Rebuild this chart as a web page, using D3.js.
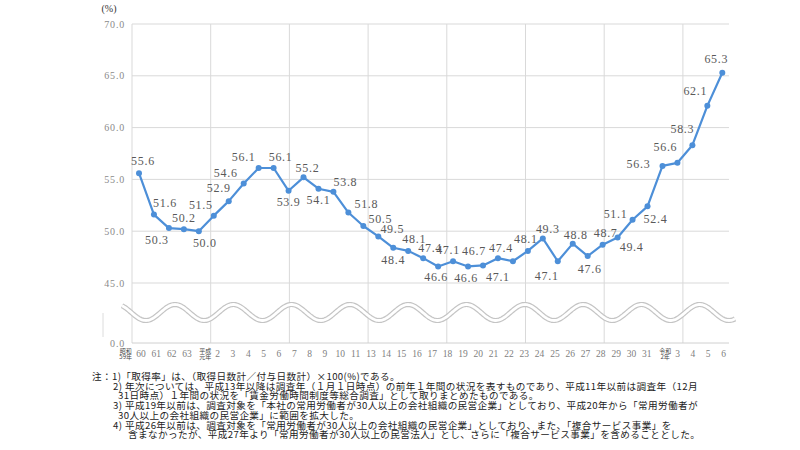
<!DOCTYPE html>
<html><head><meta charset="utf-8">
<script src="https://cdn.jsdelivr.net/npm/d3@7/dist/d3.min.js"></script>
<style>body{margin:0;background:#fff}svg{display:block}</style>
</head><body><svg id="c" width="800" height="450"></svg>
<script>
const categories = ["昭和59年","60","61","62","63","平成元年","2","3","4","5","6","7","8","9","10","11","13","14","15","16","17","18","19","20","21","22","23","24","25","26","27","28","29","30","31","令和2年","3","4","5","6"];
const values = [55.6,51.6,50.3,50.2,50.0,51.5,52.9,54.6,56.1,56.1,53.9,55.2,54.1,53.8,51.8,50.5,49.5,48.4,48.1,47.4,46.6,47.1,46.6,46.7,47.4,47.1,48.1,49.3,47.1,48.8,47.6,48.7,49.4,51.1,52.4,56.3,56.6,58.3,62.1,65.3];
const yTicks = [0,45,50,55,60,65,70];
const unitLabel = "(%)";
const notes = [
 "注：1)「取得率」は、（取得日数計／付与日数計）×100(%)である。",
 "2) 年次については、平成13年以降は調査年（１月１日時点）の前年１年間の状況を表すものであり、平成11年以前は調査年（12月",
 "31日時点）１年間の状況を「賃金労働時間制度等総合調査」として取りまとめたものである。",
 "3) 平成19年以前は、調査対象を「本社の常用労働者が30人以上の会社組織の民営企業」としており、平成20年から「常用労働者が",
 "30人以上の会社組織の民営企業」に範囲を拡大した。",
 "4) 平成26年以前は、調査対象を「常用労働者が30人以上の会社組織の民営企業」としており、また、「複合サービス事業」を",
 "含まなかったが、平成27年より「常用労働者が30人以上の民営法人」とし、さらに「複合サービス事業」を含めることとした。"
];

// layout (label placement offsets relative to each point)
const labelOffsets = [[4,-12],[11,-12],[-12,12],[0,-11],[6,12],[-13,-11],[-10,-13],[-18,-11],[-15,-11],[7,-11],
 [0,11],[4,-9],[0,11],[12,-10],[18,-9],[17,-7],[14,-7],[0,12],[6,-12],[7,-10],
 [-2,11],[-5,-11],[-2,12],[-9,-14],[3,-10],[-15,16],[-2,-12],[5,-9],[-11,15],[3,-9],
 [2,13],[3,-12],[14,10],[-17,-6],[8,13],[-24,-2],[-12,-16],[-10,-16],[-12,-15],[-6,-14]];
const noteX = [92,113,118,113,118,113,128];
const serif = "'Liberation Serif','Times New Roman',serif";
const cjk = "'Noto Sans CJK JP',sans-serif";

const svg = d3.select("#c");
const plotL = 132, plotR = 729, plotT = 24, axisY = 343;
const idx = d3.range(categories.length);
const x = d3.scalePoint().domain(idx).range([139, 722.3]);
const xLab = d3.scalePoint().domain(idx).range([125.7, 723.5]);
const y = d3.scaleLinear().domain([0,45,70]).range([axisY, 283, plotT]);

const lineCol = "#4d8fd8", gridCol = "#d9d9d9";

// vertical gridlines
const gStep = 78.7;
const gx = d3.range(plotL, plotR - 5, gStep);
svg.append("g").selectAll("line").data(gx).join("line")
  .attr("x1", d => d).attr("x2", d => d).attr("y1", plotT).attr("y2", axisY)
  .attr("stroke", gridCol).attr("stroke-width", 1);
// horizontal gridlines
svg.append("g").selectAll("line").data(yTicks).join("line")
  .attr("x1", plotL).attr("x2", plotR).attr("y1", d => y(d)).attr("y2", d => y(d))
  .attr("stroke", d => d === 0 ? "#d0d0d0" : gridCol).attr("stroke-width", 1);
// small bracket mark left of the break
svg.append("line").attr("x1", 103).attr("x2", 103).attr("y1", 313).attr("y2", 337)
  .attr("stroke", "#dcdcdc").attr("stroke-width", 1);

// y tick labels
svg.append("g").selectAll("text").data(yTicks).join("text")
  .attr("x", 125).attr("y", d => y(d) + 3.5).attr("text-anchor", "end")
  .style("font-family", serif).attr("font-size", 10).attr("letter-spacing", 0.8)
  .attr("fill", "#8a8a8a").text(d => d.toFixed(1));
svg.append("text").attr("x", 109).attr("y", 12).attr("text-anchor", "middle")
  .style("font-family", serif).attr("font-size", 10).attr("fill", "#333").text(unitLabel);

// wavy break
const waveY = xx => 312.5 - 8 * Math.cos(2 * Math.PI * (xx - 175) / 58.3);
const wavePts = d3.range(122, 736, 1);
const wl = d3.line().x(d => d).y(d => waveY(d));
svg.append("path").attr("d", wl(wavePts)).attr("fill", "none").attr("stroke", "#c4c4c4").attr("stroke-width", 5.2);
svg.append("path").attr("d", wl(wavePts)).attr("fill", "none").attr("stroke", "#fff").attr("stroke-width", 2.8);

// x labels
const xg = svg.append("g");
idx.forEach(i => {
  const c = categories[i];
  if (c.length > 2 && /年$/.test(c)) {
    const t = xg.append("text").attr("text-anchor", "middle")
      .style("font-family", cjk).attr("font-size", 6).attr("fill", "#444");
    t.append("tspan").attr("x", xLab(i) + (i === 0 ? 0 : 3)).attr("y", 352.5).text(c.slice(0, 2));
    t.append("tspan").attr("x", xLab(i) + (i === 0 ? 0 : 3)).attr("y", 358.8).text(c.slice(2));
  } else {
    xg.append("text").attr("x", xLab(i)).attr("y", 357).attr("text-anchor", "middle")
      .style("font-family", serif).attr("font-size", 9.5).attr("fill", "#808080").text(c);
  }
});

// line and markers
const line = d3.line().x((d, i) => x(i)).y(d => y(d));
svg.append("path").datum(values).attr("d", line).attr("fill", "none")
  .attr("stroke", lineCol).attr("stroke-width", 2.2).attr("stroke-linejoin", "round");
svg.append("g").selectAll("circle").data(values).join("circle")
  .attr("cx", (d, i) => x(i)).attr("cy", d => y(d)).attr("r", 3).attr("fill", lineCol);

// data labels
svg.append("g").selectAll("text").data(values).join("text")
  .attr("x", (d, i) => x(i) + labelOffsets[i][0]).attr("y", (d, i) => y(d) + labelOffsets[i][1] + 4)
  .attr("text-anchor", "middle").style("font-family", serif).attr("font-size", 12)
  .attr("letter-spacing", 0.7).attr("fill", "#595959").text(d => d.toFixed(1));

// notes
svg.append("g").selectAll("text").data(notes).join("text")
  .attr("x", (d, i) => noteX[i]).attr("y", (d, i) => 380 + i * 9.7)
  .style("font-family", cjk).attr("font-size", 9.6).attr("letter-spacing", 0.4)
  .attr("fill", "#222").text(d => d);
</script></body></html>
